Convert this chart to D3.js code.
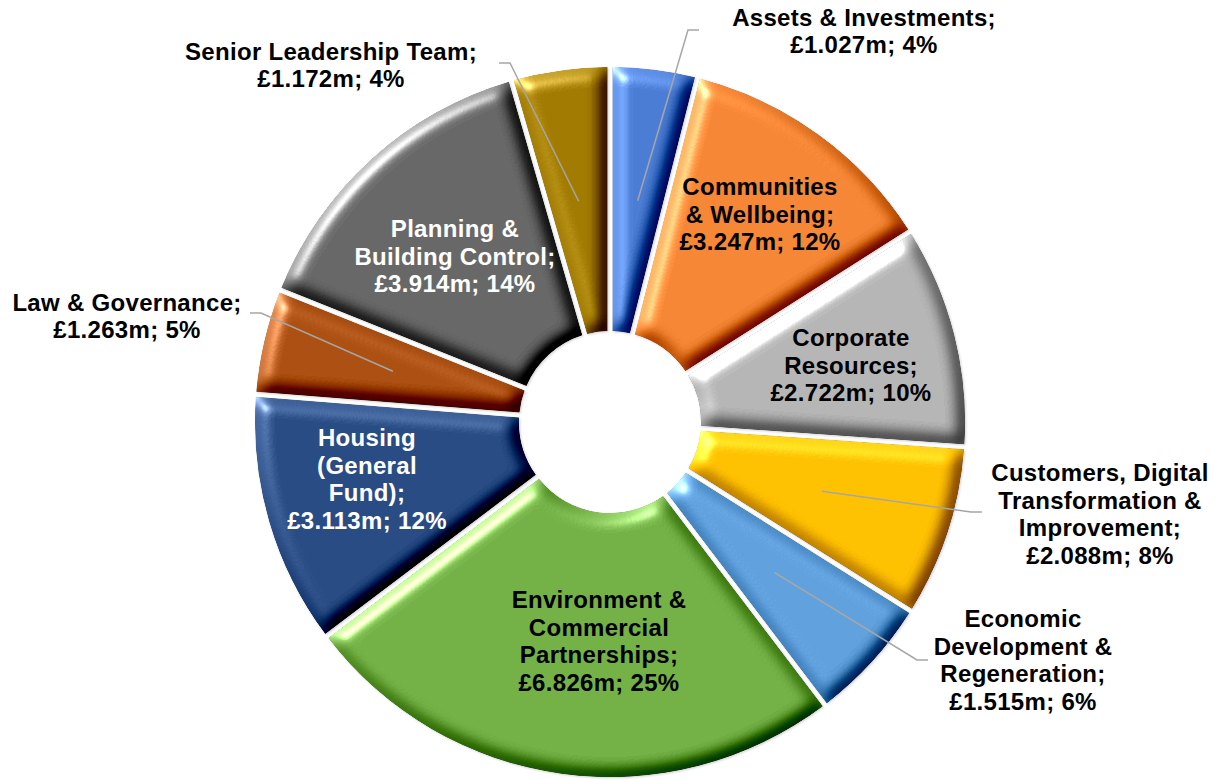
<!DOCTYPE html>
<html>
<head>
<meta charset="utf-8">
<script src="https://cdn.jsdelivr.net/npm/d3@7"></script>
<style>
  body { margin: 0; background: #fff; }
  .label { font-family: 'Liberation Sans', Arial, sans-serif; font-weight: bold; font-size: 24px; letter-spacing: 0.3px; }
  .leader { fill: none; stroke: #a6a6a6; stroke-width: 1.5; }
</style>
</head>
<body>
<svg class="chart" width="1225" height="780">
  <defs>
    <filter id="bevel" x="-5%" y="-5%" width="110%" height="110%" color-interpolation-filters="sRGB">
      <feGaussianBlur in="SourceAlpha" stdDeviation="8" result="blur"/>
      <feDiffuseLighting in="blur" surfaceScale="10" diffuseConstant="1" lighting-color="#ffffff" result="diff">
        <feDistantLight azimuth="225" elevation="45"/>
      </feDiffuseLighting>
      <feComposite in="SourceGraphic" in2="diff" operator="arithmetic" k1="0" k2="1" k3="0.7" k4="-0.495" result="lit"/>
      <feSpecularLighting in="blur" surfaceScale="10" specularConstant="0.45" specularExponent="28" lighting-color="#ffffff" result="spec">
        <feDistantLight azimuth="225" elevation="30"/>
      </feSpecularLighting>
      <feComposite in="lit" in2="spec" operator="arithmetic" k1="0" k2="1" k3="1" k4="0" result="glossy"/>
      <feComposite in="glossy" in2="SourceAlpha" operator="in" result="shape"/>
      <feGaussianBlur in="SourceAlpha" stdDeviation="1.2" result="sblur"/>
      <feOffset in="sblur" dx="0.8" dy="1.2" result="soff"/>
      <feFlood flood-color="#000" flood-opacity="0.18"/>
      <feComposite in2="soff" operator="in" result="shadow"/>
      <feMerge><feMergeNode in="shadow"/><feMergeNode in="shape"/></feMerge>
    </filter>
  </defs>
</svg>
<script>
// revenue budget by service area, £m
const departments = [
  'Assets & Investments',
  'Communities & Wellbeing',
  'Corporate Resources',
  'Customers, Digital Transformation & Improvement',
  'Economic Development & Regeneration',
  'Environment & Commercial Partnerships',
  'Housing (General Fund)',
  'Law & Governance',
  'Planning & Building Control',
  'Senior Leadership Team',
];
const spend = [1.027, 3.247, 2.722, 2.088, 1.515, 6.826, 3.113, 1.263, 3.914, 1.172];
const shares = [4, 12, 10, 8, 6, 25, 12, 5, 14, 4];
const nameLines = [
  ['Assets & Investments;'],
  ['Communities', '& Wellbeing;'],
  ['Corporate', 'Resources;'],
  ['Customers, Digital', 'Transformation &', 'Improvement;'],
  ['Economic', 'Development &', 'Regeneration;'],
  ['Environment &', 'Commercial', 'Partnerships;'],
  ['Housing', '(General', 'Fund);'],
  ['Law & Governance;'],
  ['Planning &', 'Building Control;'],
  ['Senior Leadership Team;'],
];

// look and layout
const colors = ['#4a7bd3', '#f38534', '#b4b4b4', '#ffc000', '#5fa0dc', '#72b046', '#284a82', '#aa4e12', '#666666', '#a07a00'];
const textColors = ['#000', '#000', '#000', '#000', '#000', '#000', '#fff', '#000', '#fff', '#000'];
const labelAt = [
  { x: 864, y: 31, end: [699, 30] },
  { x: 760, y: 214 },
  { x: 851, y: 365 },
  { x: 1100, y: 514, end: [982, 512] },
  { x: 1023, y: 660, end: [928, 660] },
  { x: 599, y: 641 },
  { x: 367, y: 479 },
  { x: 127, y: 316, end: [250, 313] },
  { x: 455, y: 256 },
  { x: 331, y: 65, end: [499, 63] },
];
const cx = 610;
const cy = 422;
const outerR = 355;
const innerR = 91;
const lineH = 27.5;

function buildData() {
  return departments.map((name, i) => ({
    name,
    value: spend[i],
    lines: nameLines[i].concat([`£${spend[i].toFixed(3)}m; ${shares[i]}%`]),
    color: colors[i],
    textColor: textColors[i],
    pos: labelAt[i],
  }));
}

function drawDonut(data) {
  const svg = d3.select('.chart');
  const g = svg.append('g').attr('transform', `translate(${cx},${cy})`);

  const pie = d3.pie()
    .sort(null)
    .value(d => d.value)
    .padAngle(5 / outerR);
  const arc = d3.arc()
    .innerRadius(innerR)
    .outerRadius(outerR)
    .padRadius(outerR);

  const arcs = pie(data);

  g.selectAll('path.slice')
    .data(arcs)
    .enter()
    .append('path')
    .attr('class', 'slice')
    .attr('d', arc)
    .attr('fill', d => d.data.color)
    .attr('filter', 'url(#bevel)');

  // leader lines for the labels that sit outside the ring
  const line = d3.line();
  svg.append('g').selectAll('path')
    .data(arcs.filter(d => d.data.pos.end))
    .enter()
    .append('path')
    .attr('class', 'leader')
    .attr('d', (d) => {
      const c = arc.centroid(d);
      const start = [c[0] + cx, c[1] + cy];
      const end = d.data.pos.end;
      const dir = end[0] > start[0] ? -1 : 1;
      return line([start, [end[0] + dir * 11, end[1]], end]);
    });

  const labels = svg.append('g').selectAll('text')
    .data(data)
    .enter()
    .append('text')
    .attr('class', 'label')
    .attr('text-anchor', 'middle')
    .attr('fill', d => d.textColor);

  labels.each(function (d) {
    const top = d.pos.y - ((d.lines.length - 1) * lineH) / 2 + 8.5;
    d3.select(this).selectAll('tspan')
      .data(d.lines)
      .enter()
      .append('tspan')
      .attr('x', d.pos.x)
      .attr('y', (t, i) => top + i * lineH)
      .text(t => t);
  });
}

drawDonut(buildData());
</script>
</body>
</html>
